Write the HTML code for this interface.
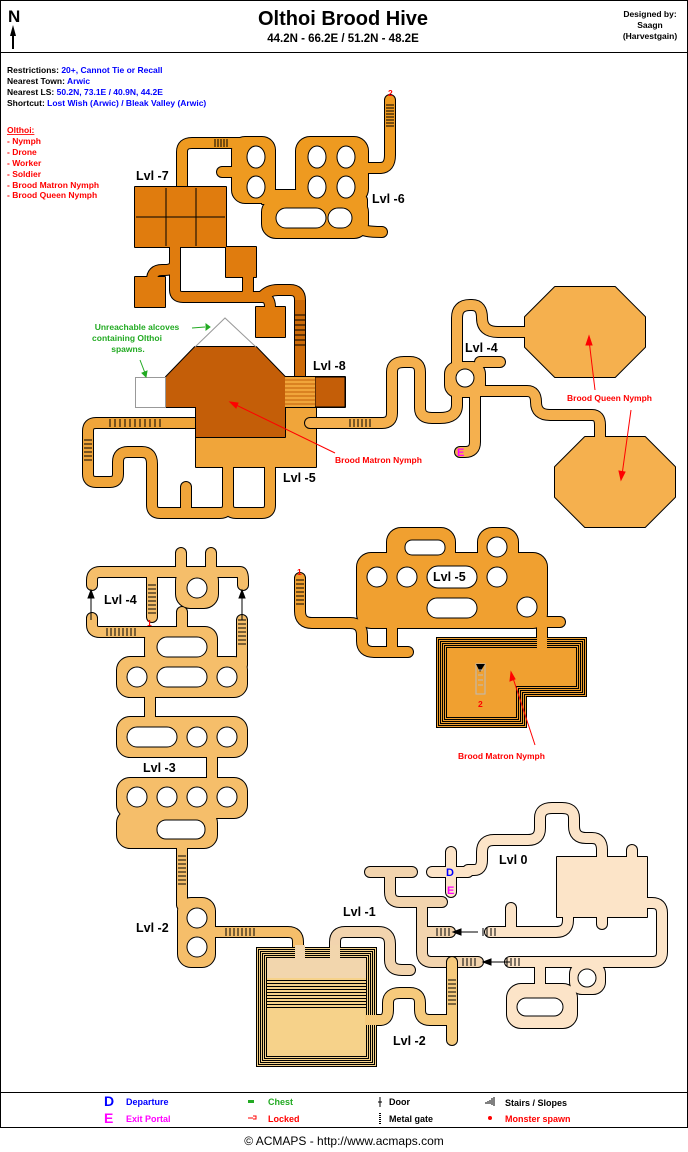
<!DOCTYPE html>
<html><head><meta charset="utf-8"><style>
html,body{margin:0;padding:0;background:#fff}
svg{display:block;font-family:"Liberation Sans",Arial,sans-serif;font-weight:bold}
text{font-family:"Liberation Sans",Arial,sans-serif;font-weight:700}
.c{fill:none;stroke:var(--sc);stroke-width:var(--cw);stroke-linecap:round;stroke-linejoin:round}
.r{fill:var(--f);stroke:var(--sc);stroke-width:var(--rw);stroke-linejoin:round}
.h{fill:#fff;stroke:#000;stroke-width:1}
.o{--sc:#000;--f:#000;--cw:12;--rw:2}
</style></head><body>
<svg width="688" height="1152" viewBox="0 0 688 1152" xmlns="http://www.w3.org/2000/svg" font-weight="bold">
<defs>
<g id="L6">
<path class="c" d="M182,190 V152 Q182,143 192,143 H262"/>
<rect class="r" x="232" y="137" width="43" height="66" rx="13"/>
<path class="c" d="M222,172 H236"/>
<rect class="r" x="296" y="137" width="72" height="66" rx="14"/>
<rect class="r" x="262" y="190" width="40" height="14"/>
<rect class="r" x="262" y="198" width="106" height="40" rx="14"/>
<path class="c" d="M362,200 V228 Q362,232 382,232"/>
<path class="c" d="M360,168 H380 Q390,168 390,155 V100"/>
</g>
<g id="L7">
<rect class="r" x="135" y="187" width="91" height="60"/>
<rect class="r" x="226" y="247" width="30" height="30"/>
<rect class="r" x="135" y="277" width="30" height="30"/>
<rect class="r" x="256" y="307" width="29" height="30"/>
<path class="c" d="M175,247 V262 Q175,270 165,270 H162 Q152,270 152,280"/>
<path class="c" d="M175,262 V290 Q175,297 183,297 H241 Q248,297 248,290 V277"/>
<path class="c" d="M241,297 H262 Q270,297 270,307"/>
<path class="c" d="M262,297 Q268,290 278,290 H290 Q300,290 300,300 V378"/>
</g>
<g id="L5">
<path class="c" d="M200,423 H96 Q88,423 88,431 V474 Q88,482 96,482 H110 Q118,482 118,474 V462 Q118,452 128,452 H142 Q152,452 152,464 V505 Q152,513 160,513 H220 Q228,513 228,505 V465"/>
<path class="c" d="M186,513 V487"/>
<path class="c" d="M228,505 Q228,513 236,513 H262 Q270,513 270,505 V465"/>
<rect class="r" x="196" y="437" width="120" height="30"/>
<rect class="r" x="285" y="407" width="31" height="31"/>
</g>
<g id="L8">
<polygon class="r" points="195,347 256,347 285,377 285,437 196,437 196,407 166,407 166,377"/>
<rect class="r" x="285" y="377" width="60" height="30"/>
</g>
<g id="L4">
<path class="c" d="M310,423 H382 Q392,423 392,413 V372 Q392,362 404,362 H410 Q420,362 420,372 V408 Q420,418 432,418 H440 Q457,418 457,405 V318 Q457,305 470,305 H472 Q482,305 482,318 Q482,332 498,332 H530"/>
<rect class="r" x="445" y="362" width="40" height="35" rx="12"/>
<path class="c" d="M480,362 H500"/>
<path class="c" d="M475,390 V442 Q475,452 465,452 H460"/>
<path class="c" d="M480,391 H527 Q536,391 536,402 Q536,415 550,415 H592 Q600,415 600,425 V440"/>
<polygon class="r" points="555,287 615,287 645,317 645,347 615,377 555,377 525,347 525,317"/>
<polygon class="r" points="585,437 645,437 675,467 675,497 645,527 585,527 555,497 555,467"/>
</g>
<g id="L5b">
<path class="c" d="M300,578 V611 Q300,623 312,623 H350 Q362,623 362,635 V641 Q362,652 374,652 H408"/>
<rect class="r" x="387" y="528" width="68" height="40" rx="14"/>
<rect class="r" x="478" y="528" width="40" height="40" rx="14"/>
<rect class="r" x="357" y="553" width="190" height="75" rx="14"/>
<path class="c" d="M392,620 V648"/>
<path class="c" d="M542,622 H560"/>
<path class="c" d="M542,620 V640"/>
</g>
<g id="LL">
<path class="c" d="M92,585 V580 Q92,572 100,572 H240 Q243,572 243,580 V585"/>
<path class="c" d="M181,572 V553"/><path class="c" d="M211,572 V553"/>
<path class="c" d="M152,572 V617"/>
<rect class="r" x="176" y="567" width="42" height="41" rx="14"/>
<path class="c" d="M92,618 V625 Q92,632 100,632 H170"/>
<rect class="r" x="145" y="627" width="72" height="40" rx="12"/>
<path class="c" d="M182,627 V612"/>
<path class="c" d="M242,620 V665"/>
<rect class="r" x="117" y="657" width="130" height="40" rx="13"/>
<path class="c" d="M150,695 V720"/>
<rect class="r" x="117" y="717" width="130" height="40" rx="13"/>
<path class="c" d="M212,755 V780"/>
<rect class="r" x="117" y="778" width="130" height="40" rx="13"/>
<rect class="r" x="117" y="810" width="100" height="38" rx="13"/>
<path class="c" d="M182,845 V905"/>
<rect class="r" x="178" y="898" width="37" height="69" rx="13"/>
<path class="c" d="M210,932 H288 Q298,932 298,942 V955"/>
</g>
<g id="L1">
<path class="c" d="M335,955 V942 Q335,932 345,932 H378 Q390,932 390,944 V960 Q390,970 402,970 H410"/>
<path class="c" d="M370,872 H412"/>
<path class="c" d="M390,872 V892 Q390,902 400,902 H442"/>
<path class="c" d="M422,902 V952 Q422,962 432,962 H478"/>
<path class="c" d="M422,932 H450"/>
</g>
<g id="L2">
<path class="c" d="M372,1020 H380 Q388,1020 388,1010 V1003 Q388,993 400,993 H410 Q420,993 420,1003 V1010 Q420,1020 430,1020 H452"/>
<path class="c" d="M452,962 V1040"/>
</g>
<g id="L0">
<path class="c" d="M432,872 H468"/>
<path class="c" d="M451,852 V892"/>
<path class="c" d="M468,870 H474 Q482,870 482,860 V852 Q482,840 494,840 H528 Q540,840 540,828 V818 Q540,808 552,808 H562 Q574,808 574,818 V826 Q574,838 586,838 H592 Q602,838 602,850 V860"/>
<rect class="r" x="557" y="857" width="90" height="60"/>
<path class="c" d="M632,850 V858"/><path class="c" d="M602,915 V924"/>
<path class="c" d="M568,915 V920 Q568,932 556,932 H490"/>
<path class="c" d="M511,932 V908"/>
<path class="c" d="M645,903 H652 Q662,903 662,913 V952 Q662,962 652,962 H510"/>
<rect class="r" x="570" y="962" width="35" height="32" rx="12"/>
<path class="c" d="M540,962 V985"/>
<rect class="r" x="507" y="984" width="70" height="44" rx="14"/>
</g>
</defs>

<rect x="0.5" y="0.5" width="687" height="1127" fill="none" stroke="#000"/>
<line x1="0" y1="52.5" x2="688" y2="52.5" stroke="#000"/>
<line x1="0" y1="1092.5" x2="688" y2="1092.5" stroke="#000"/>

<text x="8" y="22" font-size="17" font-weight="bold">N</text>
<path d="M13,25 L10,36 H16 Z" fill="#000"/><rect x="12" y="34" width="2" height="15" fill="#000"/>
<text x="343" y="25" font-size="20" text-anchor="middle" font-weight="bold">Olthoi Brood Hive</text>
<text x="343" y="42" font-size="11.5" text-anchor="middle" font-weight="bold">44.2N - 66.2E / 51.2N - 48.2E</text>
<g font-size="8.5" text-anchor="middle" font-weight="bold">
<text x="650" y="17">Designed by:</text>
<text x="650" y="28">Saagn</text>
<text x="650" y="39">(Harvestgain)</text>
</g>

<g font-size="8.5" font-weight="bold">
<text x="7" y="73">Restrictions: <tspan fill="#00f">20+, Cannot Tie or Recall</tspan></text>
<text x="7" y="84">Nearest Town: <tspan fill="#00f">Arwic</tspan></text>
<text x="7" y="95">Nearest LS: <tspan fill="#00f">50.2N, 73.1E / 40.9N, 44.2E</tspan></text>
<text x="7" y="106">Shortcut: <tspan fill="#00f">Lost Wish (Arwic) / Bleak Valley (Arwic)</tspan></text>
</g>
<g font-size="8.5" fill="#f00" font-weight="bold">
<text x="7" y="133" text-decoration="underline">Olthoi:</text>
<text x="7" y="144">- Nymph</text><text x="7" y="155">- Drone</text><text x="7" y="166">- Worker</text>
<text x="7" y="177">- Soldier</text><text x="7" y="188">- Brood Matron Nymph</text><text x="7" y="198">- Brood Queen Nymph</text>
</g>

<use href="#L6" class="o"/><use href="#L6" style="--sc:#EE9A20;--f:#EE9A20;--cw:10;--rw:0"/>
<use href="#L7" class="o"/><use href="#L7" style="--sc:#E07C0E;--f:#E07C0E;--cw:10;--rw:0"/>
<path d="M166,188 V246 M196,188 V246 M136,217 H225" stroke="#000" stroke-width="1"/>
<path d="M300,300 V376" stroke="#CC6A08" stroke-width="10" fill="none"/>
<use href="#L5" class="o"/><use href="#L5" style="--sc:#F0A53A;--f:#F0A53A;--cw:10;--rw:0"/>
<use href="#L8" class="o"/><use href="#L8" style="--sc:#C45E08;--f:#C45E08;--cw:10;--rw:0"/>
<rect x="315" y="377" width="30" height="30" fill="#C45E08" stroke="#000"/>
<rect x="285" y="377" width="30" height="30" fill="#F0A53A"/>
<g stroke="#C45E08" stroke-width="1">
<line x1="285" y1="380" x2="315" y2="380"/><line x1="285" y1="384" x2="315" y2="384"/><line x1="285" y1="388" x2="315" y2="388"/><line x1="285" y1="392" x2="315" y2="392"/><line x1="285" y1="396" x2="315" y2="396"/><line x1="285" y1="400" x2="315" y2="400"/><line x1="285" y1="404" x2="315" y2="404"/>
</g>
<use href="#L4" class="o"/><use href="#L4" style="--sc:#F5B04E;--f:#F5B04E;--cw:10;--rw:0"/>
<use href="#L5b" class="o"/><use href="#L5b" style="--sc:#F0A030;--f:#F0A030;--cw:10;--rw:0"/>
<use href="#LL" class="o"/><use href="#LL" style="--sc:#F5BE6A;--f:#F5BE6A;--cw:10;--rw:0"/>
<use href="#L1" class="o"/><use href="#L1" style="--sc:#F2D4AE;--f:#F2D4AE;--cw:10;--rw:0"/>
<use href="#L2" class="o"/><use href="#L2" style="--sc:#F6CA7C;--f:#F6CA7C;--cw:10;--rw:0"/>
<use href="#L0" class="o"/><use href="#L0" style="--sc:#FCE4C8;--f:#FCE4C8;--cw:10;--rw:0"/>

<ellipse class="h" cx="256" cy="157" rx="9" ry="11"/><ellipse class="h" cx="256" cy="187" rx="9" ry="11"/>
<ellipse class="h" cx="317" cy="157" rx="9" ry="11"/><ellipse class="h" cx="346" cy="157" rx="9" ry="11"/>
<ellipse class="h" cx="317" cy="187" rx="9" ry="11"/><ellipse class="h" cx="346" cy="187" rx="9" ry="11"/>
<rect class="h" x="276" y="208" width="50" height="20" rx="10"/>
<rect class="h" x="328" y="208" width="24" height="20" rx="10"/>
<circle class="h" cx="465" cy="378" r="9"/>
<rect class="h" x="405" y="540" width="40" height="15" rx="7"/>
<circle class="h" cx="497" cy="547" r="10"/>
<circle class="h" cx="377" cy="577" r="10"/><circle class="h" cx="407" cy="577" r="10"/>
<rect class="h" x="427" y="566" width="50" height="22" rx="11"/>
<circle class="h" cx="497" cy="577" r="10"/>
<rect class="h" x="427" y="598" width="50" height="20" rx="10"/>
<circle class="h" cx="527" cy="607" r="10"/>
<circle class="h" cx="197" cy="588" r="10"/>
<rect class="h" x="157" y="637" width="50" height="20" rx="10"/>
<circle class="h" cx="137" cy="677" r="10"/><rect class="h" x="157" y="667" width="50" height="20" rx="10"/><circle class="h" cx="227" cy="677" r="10"/>
<rect class="h" x="127" y="727" width="50" height="20" rx="10"/><circle class="h" cx="197" cy="737" r="10"/><circle class="h" cx="227" cy="737" r="10"/>
<circle class="h" cx="137" cy="797" r="10"/><circle class="h" cx="167" cy="797" r="10"/><circle class="h" cx="197" cy="797" r="10"/><circle class="h" cx="227" cy="797" r="10"/>
<rect class="h" x="157" y="820" width="48" height="19" rx="9"/>
<circle class="h" cx="197" cy="918" r="10"/><circle class="h" cx="197" cy="947" r="10"/>
<circle class="h" cx="587" cy="978" r="9"/>
<rect class="h" x="517" y="998" width="46" height="18" rx="9"/>

<rect x="135.5" y="377.5" width="30" height="30" fill="#fff" stroke="#999"/>
<polyline points="195,347 225,318 256,347" fill="none" stroke="#999"/>

<g fill="#F0A030" stroke="#000" stroke-width="1" shape-rendering="crispEdges">
<polygon points="436.5,637.5 586.5,637.5 586.5,696.5 526.5,696.5 526.5,727.5 436.5,727.5"/>
<polygon points="438.5,639.5 584.5,639.5 584.5,694.5 524.5,694.5 524.5,725.5 438.5,725.5"/>
<polygon points="440.5,641.5 582.5,641.5 582.5,692.5 522.5,692.5 522.5,723.5 440.5,723.5"/>
<polygon points="442.5,643.5 580.5,643.5 580.5,690.5 520.5,690.5 520.5,721.5 442.5,721.5"/>
<polygon points="444.5,645.5 578.5,645.5 578.5,688.5 518.5,688.5 518.5,719.5 444.5,719.5"/>
<polygon points="446.5,647.5 576.5,647.5 576.5,686.5 516.5,686.5 516.5,717.5 446.5,717.5"/>
</g>
<rect x="537" y="630" width="10" height="18" fill="#F0A030"/>
<rect x="476" y="664" width="9" height="30" fill="none" stroke="#bbb"/>
<path d="M476,664 H485 L480,672 Z" fill="#000"/>

<g fill="#F6D28A" stroke="#000" stroke-width="1" shape-rendering="crispEdges">
<rect x="256.5" y="947.5" width="120" height="119"/><rect x="258.5" y="949.5" width="116" height="115"/>
<rect x="260.5" y="951.5" width="112" height="111"/><rect x="262.5" y="953.5" width="108" height="107"/>
<rect x="264.5" y="955.5" width="104" height="103"/><rect x="266.5" y="957.5" width="100" height="99"/>
</g>
<rect x="267" y="958" width="99" height="20" fill="#F2D6AD"/>
<rect x="295" y="945" width="10" height="14" fill="#F2D6AD"/><rect x="330" y="945" width="10" height="14" fill="#F2D6AD"/>
<g stroke="#000" stroke-width="1" shape-rendering="crispEdges">
<line x1="266" y1="980.5" x2="367" y2="980.5"/><line x1="266" y1="983.5" x2="367" y2="983.5"/><line x1="266" y1="986.5" x2="367" y2="986.5"/><line x1="266" y1="989.5" x2="367" y2="989.5"/><line x1="266" y1="992.5" x2="367" y2="992.5"/><line x1="266" y1="995.5" x2="367" y2="995.5"/><line x1="266" y1="998.5" x2="367" y2="998.5"/><line x1="266" y1="1001.5" x2="367" y2="1001.5"/><line x1="266" y1="1004.5" x2="367" y2="1004.5"/><line x1="266" y1="1007.5" x2="367" y2="1007.5"/>
</g>
<rect x="365" y="1015" width="12" height="10" fill="#F6CA7C"/>

<g stroke="#000" stroke-width="1">
<path d="M386,105 H394 M386,108 H394 M386,111 H394 M386,114 H394 M386,117 H394 M386,120 H394 M386,123 H394 M386,126 H394"/>
<path d="M215,139 V147 M218,139 V147 M221,139 V147 M224,139 V147 M227,139 V147"/>
<path d="M295,315 H305 M295,320 H305 M295,325 H305 M295,330 H305 M295,335 H305 M295,340 H305 M295,345 H305"/>
<path d="M110,419 V427 M115,419 V427 M120,419 V427 M125,419 V427 M130,419 V427 M135,419 V427 M140,419 V427 M145,419 V427 M150,419 V427 M155,419 V427 M160,419 V427"/>
<path d="M84,440 H92 M84,444 H92 M84,448 H92 M84,452 H92 M84,456 H92 M84,460 H92"/>
<path d="M350,419 V427 M354,419 V427 M358,419 V427 M362,419 V427 M366,419 V427 M370,419 V427"/>
<path d="M296,580 H304 M296,584 H304 M296,588 H304 M296,592 H304 M296,596 H304 M296,600 H304 M296,604 H304"/>
<path d="M148,585 H156 M148,589 H156 M148,593 H156 M148,597 H156 M148,601 H156 M148,605 H156 M148,609 H156 M148,613 H156"/>
<path d="M107,628 V636 M111,628 V636 M115,628 V636 M119,628 V636 M123,628 V636 M127,628 V636 M131,628 V636 M135,628 V636"/>
<path d="M238,620 H246 M238,624 H246 M238,628 H246 M238,632 H246 M238,636 H246 M238,640 H246 M238,644 H246"/>
<path d="M178,856 H186 M178,860 H186 M178,864 H186 M178,868 H186 M178,872 H186 M178,876 H186 M178,880 H186 M178,884 H186"/>
<path d="M226,928 V936 M230,928 V936 M234,928 V936 M238,928 V936 M242,928 V936 M246,928 V936 M250,928 V936 M254,928 V936"/>
<path d="M437,928 V936 M441,928 V936 M445,928 V936 M449,928 V936"/>
<path d="M483,928 V936 M487,928 V936 M491,928 V936 M495,928 V936"/>
<path d="M463,958 V966 M467,958 V966 M471,958 V966 M475,958 V966"/>
<path d="M507,958 V966 M511,958 V966 M515,958 V966 M519,958 V966"/>
<path d="M448,980 H456 M448,984 H456 M448,988 H456 M448,992 H456 M448,996 H456 M448,1000 H456 M448,1004 H456"/>
<path d="M478,670 H483 M478,675 H483 M478,680 H483 M478,685 H483" stroke="#bbb"/>
</g>
<g stroke="#000" fill="#000">
<line x1="91" y1="620" x2="91" y2="597"/><path d="M88,598 L91,590 L94,598 Z"/>
<line x1="242" y1="620" x2="242" y2="597"/><path d="M239,598 L242,590 L245,598 Z"/>
<line x1="478" y1="932" x2="460" y2="932"/><path d="M461,929 L453,932 L461,935 Z"/>
<line x1="510" y1="962" x2="490" y2="962"/><path d="M491,959 L483,962 L491,965 Z"/>
</g>
<g stroke="#f00" fill="#f00">
<line x1="335" y1="453" x2="232" y2="403"/><path d="M230,402 L238,403 L236,408 Z"/>
<line x1="595" y1="390" x2="589" y2="340"/><path d="M589,336 L586,345 L592,345 Z"/>
<line x1="631" y1="410" x2="622" y2="475"/><path d="M621,480 L619,471 L625,472 Z"/>
<line x1="535" y1="745" x2="512" y2="675"/><path d="M511,672 L510,681 L515,679 Z"/>
</g>
<g stroke="#2a2" fill="#2a2">
<line x1="192" y1="328" x2="205" y2="327"/><path d="M206,324 L210,327 L206,330 Z"/>
<line x1="140" y1="360" x2="145" y2="373"/><path d="M142,373 L146,377 L147,371 Z"/>
</g>

<g font-size="12.5" font-weight="bold">
<text x="136" y="180">Lvl -7</text><text x="372" y="203">Lvl -6</text>
<text x="313" y="370">Lvl -8</text><text x="465" y="352">Lvl -4</text>
<text x="283" y="482">Lvl -5</text><text x="433" y="581">Lvl -5</text>
<text x="104" y="604">Lvl -4</text><text x="143" y="772">Lvl -3</text>
<text x="136" y="932">Lvl -2</text><text x="343" y="916">Lvl -1</text>
<text x="499" y="864">Lvl 0</text><text x="393" y="1045">Lvl -2</text>
</g>
<g font-size="8.5" fill="#f00" font-weight="bold">
<text x="388" y="96">2</text><text x="297" y="575">1</text><text x="147" y="626">1</text><text x="478" y="707">2</text>
<text x="335" y="463">Brood Matron Nymph</text>
<text x="567" y="401">Brood Queen Nymph</text>
<text x="458" y="759">Brood Matron Nymph</text>
</g>
<g font-size="8.5" fill="#2a2" text-anchor="middle" font-weight="bold">
<text x="137" y="330">Unreachable alcoves</text><text x="127" y="341">containing Olthoi</text><text x="128" y="352">spawns.</text>
</g>
<text x="457" y="456" font-size="11" fill="#f0f" font-weight="bold">E</text>
<text x="446" y="876" font-size="11" fill="#00f" font-weight="bold">D</text>
<text x="447" y="894" font-size="11" fill="#f0f" font-weight="bold">E</text>

<g font-weight="bold">
<text x="104" y="1106" font-size="14" fill="#00f">D</text><text x="126" y="1105" font-size="9" fill="#00f">Departure</text>
<text x="104" y="1123" font-size="14" fill="#f0f">E</text><text x="126" y="1122" font-size="9" fill="#f0f">Exit Portal</text>
<rect x="248" y="1100" width="6" height="3" fill="#2a2"/><text x="268" y="1105" font-size="9" fill="#2a2">Chest</text>
<path d="M248,1118 H253 M253,1116 H256 V1119 H253" stroke="#f00" fill="none"/><text x="268" y="1122" font-size="9" fill="#f00">Locked</text>
<line x1="380" y1="1097" x2="380" y2="1107" stroke="#000"/><line x1="378" y1="1102" x2="382" y2="1102" stroke="#000"/><text x="389" y="1105" font-size="9">Door</text>
<line x1="380" y1="1113" x2="380" y2="1125" stroke="#000" stroke-width="2" stroke-dasharray="1,1"/><text x="389" y="1122" font-size="9">Metal gate</text>
<path d="M486,1102 V1104 M488,1101 V1104 M490,1100 V1104 M492,1098 V1105 M494,1097 V1106" stroke="#000"/><text x="505" y="1106" font-size="9">Stairs / Slopes</text>
<circle cx="490" cy="1118" r="2" fill="#f00"/><text x="505" y="1122" font-size="9" fill="#f00">Monster spawn</text>
</g>

<text x="344" y="1145" font-size="12" text-anchor="middle" style="font-weight:400">© ACMAPS - http://www.acmaps.com</text>
</svg>
</body></html>
